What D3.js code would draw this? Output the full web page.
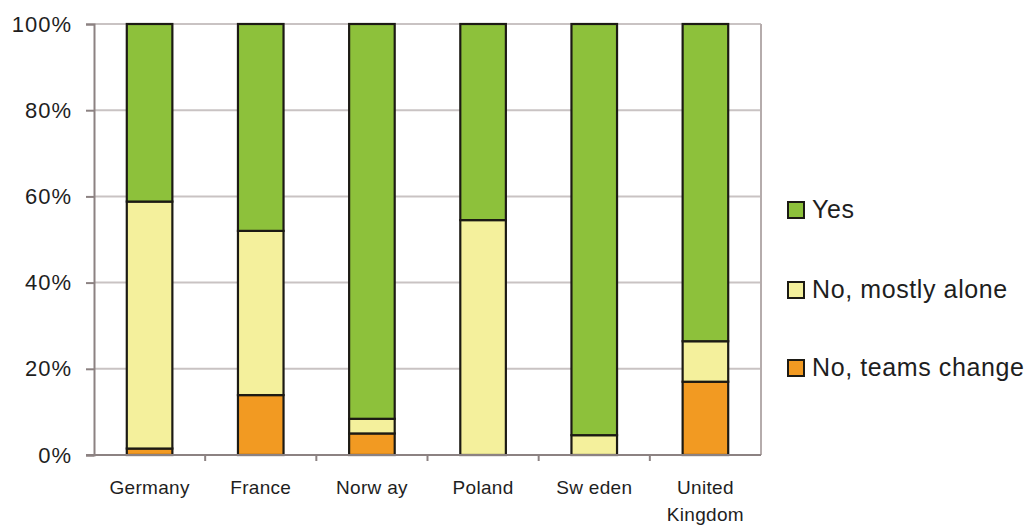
<!DOCTYPE html>
<html>
<head>
<meta charset="utf-8">
<script src="https://cdn.jsdelivr.net/npm/d3@7"></script>
<style>
  html, body { margin: 0; padding: 0; background: #ffffff; }
  svg { display: block; font-family: "Liberation Sans", Arial, sans-serif; }
</style>
</head>
<body>
<svg id="chart" width="1026" height="525"></svg>
<script>
// Countries along the x axis (second line of a label after "\n")
const countries = ["Germany", "France", "Norw ay", "Poland", "Sw eden", "United\nKingdom"];
// Share of answers per country, in percent
const teamsChange = [1.5, 13.9, 5.0, 0, 0, 17.0];
const mostlyAlone = [57.3, 38.1, 3.4, 54.5, 4.6, 9.4];
const yes = [41.2, 48.0, 91.6, 45.5, 95.4, 73.6];
const seriesNames = ["No, teams change", "No, mostly alone", "Yes"];
const seriesColors = ["#f29a22", "#f4f09c", "#8dc13b"];
const yTicks = [0, 20, 40, 60, 80, 100];

const rows = countries.map((c, i) => ({
  country: c,
  "No, teams change": teamsChange[i],
  "No, mostly alone": mostlyAlone[i],
  "Yes": yes[i]
}));

const svg = d3.select("#chart");
const plot = { left: 94, right: 761, top: 24, bottom: 455 };

const x = d3.scaleBand().domain(countries).range([plot.left, plot.right]).paddingInner(0.59).paddingOuter(0.295);
const y = d3.scaleLinear().domain([0, 100]).range([plot.bottom, plot.top]);

// Horizontal gridlines
svg.append("g")
  .selectAll("line")
  .data(yTicks.filter(t => t > 0))
  .join("line")
  .attr("x1", plot.left).attr("x2", plot.right)
  .attr("y1", d => y(d)).attr("y2", d => y(d))
  .attr("stroke", "#c9c3c3").attr("stroke-width", 2);

// Right border of the plot area
svg.append("line")
  .attr("x1", plot.right).attr("x2", plot.right)
  .attr("y1", plot.top).attr("y2", plot.bottom)
  .attr("stroke", "#b5acac").attr("stroke-width", 2);

// Stacked bars
const stack = d3.stack().keys(seriesNames);
const layers = stack(rows);
svg.append("g")
  .selectAll("g")
  .data(layers)
  .join("g")
  .attr("fill", (d, i) => seriesColors[i])
  .selectAll("rect")
  .data(d => d.filter(s => s[1] - s[0] > 0))
  .join("rect")
  .attr("x", d => x(d.data.country))
  .attr("width", x.bandwidth())
  .attr("y", d => y(d[1]))
  .attr("height", d => y(d[0]) - y(d[1]))
  .attr("stroke", "#1c1a14").attr("stroke-width", 2.2);

// Y axis
const yAxis = svg.append("g")
  .attr("transform", `translate(${plot.left},0)`)
  .call(d3.axisLeft(y).tickValues(yTicks).tickFormat(d => d + "%").tickSize(8).tickPadding(14));
yAxis.select(".domain").attr("stroke", "#8c8282").attr("stroke-width", 2);
yAxis.selectAll(".tick line").attr("stroke", "#8c8282").attr("stroke-width", 2);
yAxis.selectAll(".tick text")
  .attr("font-size", 22).attr("letter-spacing", 1).attr("fill", "#1e1e1e")
  .attr("font-family", "Liberation Sans, Arial, sans-serif");

// X axis line and separators between categories
const xAxis = svg.append("g");
xAxis.append("line")
  .attr("x1", plot.left - 8).attr("x2", plot.right)
  .attr("y1", plot.bottom).attr("y2", plot.bottom)
  .attr("stroke", "#8c8282").attr("stroke-width", 2);
const step = x.step();
const firstEdge = x(countries[0]) - x.paddingOuter() * step - x.paddingInner() * step / 2;
xAxis.selectAll("line.sep")
  .data(d3.range(1, countries.length))
  .join("line")
  .attr("class", "sep")
  .attr("x1", i => firstEdge + i * step + x.paddingInner() * step / 2)
  .attr("x2", i => firstEdge + i * step + x.paddingInner() * step / 2)
  .attr("y1", plot.bottom).attr("y2", plot.bottom + 6)
  .attr("stroke", "#8c8282").attr("stroke-width", 2);

// Category labels
xAxis.selectAll("text")
  .data(countries)
  .join("text")
  .attr("x", d => x(d) + x.bandwidth() / 2)
  .attr("y", 494)
  .attr("text-anchor", "middle")
  .attr("font-size", 19)
  .attr("letter-spacing", 0.3)
  .attr("fill", "#1e1e1e")
  .each(function (d) {
    const parts = d.split("\n");
    d3.select(this).selectAll("tspan")
      .data(parts)
      .join("tspan")
      .attr("x", x(d) + x.bandwidth() / 2)
      .attr("dy", (p, j) => j === 0 ? 0 : 27)
      .text(p => p);
  });

// Legend, top entry first
const legendItems = ["Yes", "No, mostly alone", "No, teams change"];
const legendY = [210, 290, 368];
const legend = svg.append("g")
  .selectAll("g")
  .data(legendItems)
  .join("g")
  .attr("transform", (d, i) => `translate(788,${legendY[i]})`);
legend.append("rect")
  .attr("x", 0).attr("y", -8).attr("width", 16).attr("height", 16)
  .attr("fill", d => seriesColors[seriesNames.indexOf(d)])
  .attr("stroke", "#1c1a14").attr("stroke-width", 2);
legend.append("text")
  .attr("x", 24).attr("y", 8)
  .attr("font-size", 25)
  .attr("letter-spacing", 0.6)
  .attr("fill", "#1e1e1e")
  .text(d => d);
</script>
</body>
</html>
